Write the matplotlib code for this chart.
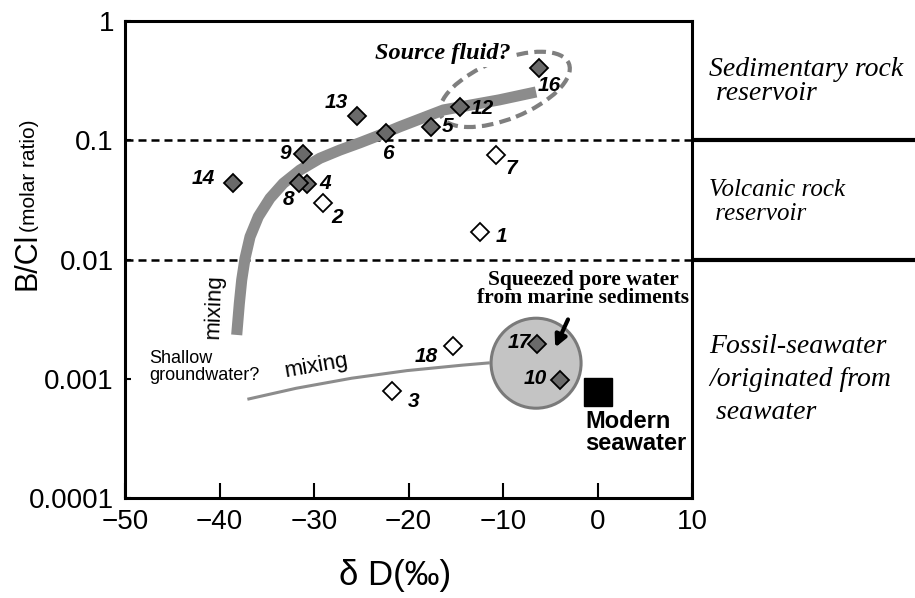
import matplotlib
matplotlib.use("Agg")
import matplotlib.pyplot as plt
from matplotlib.patches import Ellipse
from matplotlib.transforms import ScaledTranslation

plt.rcParams["font.family"] = ["Liberation Sans", "DejaVu Sans"]

# ----- data
sample_id = ["1", "2", "3", "4", "5", "6", "7", "8", "9", "10", "12", "13", "14", "16", "17", "18"]
delta_d = [-12.4, -29.0, -21.7, -30.7, -17.6, -22.4, -10.7, -31.6, -31.2, -4.0, -14.5, -25.4, -38.6, -6.2, -6.4, -15.25]
b_cl = [0.0169, 0.0296, 0.00079, 0.0427, 0.130, 0.116, 0.0748, 0.044, 0.0762, 0.00098, 0.189, 0.161, 0.0435, 0.406, 0.00195, 0.00189]
is_open = [True, True, True, False, False, False, True, False, False, False, False, False, False, False, False, True]

# mixing trends (hand drawn in the original)
upper_mix_x = [-38.18, -37.90, -37.65, -37.30, -36.77, -35.89, -34.66, -33.25, -31.48, -29.37,
               -27.25, -25.13, -23.02, -20.90, -16.3, -10.4, -6.5]
upper_mix_y = [0.00233, 0.00429, 0.00673, 0.0102, 0.0155, 0.0229, 0.0326, 0.0435, 0.0563, 0.0706,
               0.0828, 0.0953, 0.1107, 0.130, 0.1795, 0.218, 0.254]
lower_mix_x = [-37.05, -31.89, -26.03, -20.17, -14.31, -11.39]
lower_mix_y = [0.000673, 0.000832, 0.00101, 0.00117, 0.00130, 0.00136]

seawater_x, seawater_y = 0.0, 0.00077
pore_water_x, pore_water_y = -6.5, 0.00135
source_x, source_y = -9.8, 0.267
boundaries = [0.1, 0.01]

xticks = [-50, -40, -30, -20, -10, 0, 10]
yticks = [1, 0.1, 0.01, 0.001, 0.0001]
ytick_labels = ["1", "0.1", "0.01", "0.001", "0.0001"]

# label offsets in pixels (x right, y up)
label_offsets = [(21, -4), (14, -14), (21, -11), (18, 1), (16, 0), (2, -21), (15, -13), (-10, -17),
                 (-17, 1), (-24, 1), (22, -1), (-21, 13), (-29, 5), (10, -18), (-18, 2), (-27, -11)]

W, H = 915, 598


def fpos(px, py):
    """pixel position in the original picture -> figure fraction"""
    return px / W, 1 - py / H


fig = plt.figure(figsize=(W / 100, H / 100), dpi=100)
x0, y0 = fpos(125, 498)
x1, y1 = fpos(692, 21)
ax = fig.add_axes([x0, y0, x1 - x0, y1 - y0])
ax.set_yscale("log")
ax.set_xlim(-50, 10)
ax.set_ylim(0.0001, 1)

# boundaries: dashed inside, thick solid outside
for b in boundaries:
    ax.axhline(b, color="black", lw=1.8, linestyle=(0, (3.2, 2)), zorder=1)
    ax.plot([1.0, (W - 125) / (692 - 125)], [b, b], color="black", lw=3,
            transform=ax.get_yaxis_transform(), clip_on=False, solid_capstyle="butt")

# source fluid ellipse
ell = Ellipse((0, 0), 1.38, 0.59, angle=22, fill=False, edgecolor="#7f7f7f", lw=3,
              linestyle=(0, (2.8, 1.5)),
              transform=fig.dpi_scale_trans + ScaledTranslation(source_x, source_y, ax.transData),
              zorder=2)
ax.add_patch(ell)

# pore water circle
circ = Ellipse((0, 0), 0.9, 0.9, facecolor="#c4c4c4", edgecolor="#7a7a7a", lw=2.2,
               transform=fig.dpi_scale_trans + ScaledTranslation(pore_water_x, pore_water_y, ax.transData),
               zorder=2)
ax.add_patch(circ)

# mixing curves
ax.plot(upper_mix_x, upper_mix_y, color="#8c8c8c", lw=8, solid_capstyle="butt",
        solid_joinstyle="round", zorder=3)
ax.plot(lower_mix_x, lower_mix_y, color="#8c8c8c", lw=2.2, solid_capstyle="butt", zorder=3)

# samples
for sid, x, y, op, off in zip(sample_id, delta_d, b_cl, is_open, label_offsets):
    ax.plot(x, y, marker="D", markersize=9.5, markeredgewidth=1.3, markeredgecolor="black",
            markerfacecolor="white" if op else "#6a6a6a", linestyle="none", zorder=5)
    ax.annotate(sid, (x, y), xytext=off, textcoords="offset pixels", ha="center", va="center",
                fontsize=15, fontweight="bold", fontstyle="italic", zorder=6)

ax.plot(seawater_x, seawater_y, marker="s", markersize=19.5, color="black", zorder=5)

# arrow to the circle
ax.annotate("", xy=(-4.6, 0.00174), xytext=(-3.0, 0.0033),
            arrowprops=dict(arrowstyle="-|>,head_length=0.7,head_width=0.35", color="black", lw=3),
            zorder=6)

# axes styling
for sp in ax.spines.values():
    sp.set_linewidth(2.2)
ax.set_xticks(xticks)
ax.set_yticks(yticks)
ax.set_yticklabels(ytick_labels)
ax.yaxis.set_minor_locator(matplotlib.ticker.NullLocator())
ax.tick_params(axis="x", direction="in", length=11, width=1.5, labelsize=20, pad=8)
ax.tick_params(axis="y", direction="in", length=4.5, width=1.5, labelsize=20, pad=8)

# in-plot annotations
serif = ["Liberation Serif", "DejaVu Serif"]
fig.text(*fpos(443, 54), "Source fluid?", ha="center", va="center", fontsize=17.5,
         family=serif, fontweight="bold", fontstyle="italic",
         bbox=dict(facecolor="white", edgecolor="none", pad=2))
fig.text(*fpos(583, 289), "Squeezed pore water\nfrom marine sediments", ha="center", va="center",
         fontsize=15.5, family=serif, fontweight="bold", linespacing=0.88)
fig.text(*fpos(585, 410), "Modern\nseawater", ha="left", va="top", fontsize=17,
         fontweight="bold", linespacing=0.95)
fig.text(*fpos(149, 350), "Shallow\ngroundwater?", ha="left", va="top", fontsize=13,
         linespacing=1.0)
fig.text(*fpos(316, 366), "mixing", ha="center", va="center", fontsize=16, rotation=10)
fig.text(*fpos(214, 306), "mixing", ha="center", va="center", fontsize=16, rotation=88)

# reservoir classes on the right
fig.text(*fpos(709, 57), "Sedimentary rock\n reservoir", ha="left", va="top", fontsize=20,
         family=serif, fontstyle="italic", linespacing=0.97)
fig.text(*fpos(709, 179), "Volcanic rock\n reservoir", ha="left", va="top", fontsize=18,
         family=serif, fontstyle="italic", linespacing=1.12)
fig.text(*fpos(709, 334), "Fossil-seawater\n/originated from\n seawater", ha="left", va="top",
         fontsize=20, family=serif, fontstyle="italic", linespacing=1.42)

# axis labels
fig.text(*fpos(35, 290), "B/Cl", rotation=90, rotation_mode="anchor", ha="left", va="baseline",
         fontsize=22)
fig.text(*fpos(35, 232), "(molar ratio)", rotation=90, rotation_mode="anchor", ha="left",
         va="baseline", fontsize=15)
fig.text(*fpos(395, 575), "\u03b4 D(\u2030)", ha="center", va="center", fontsize=25)

fig.savefig("out.png", dpi=100)
